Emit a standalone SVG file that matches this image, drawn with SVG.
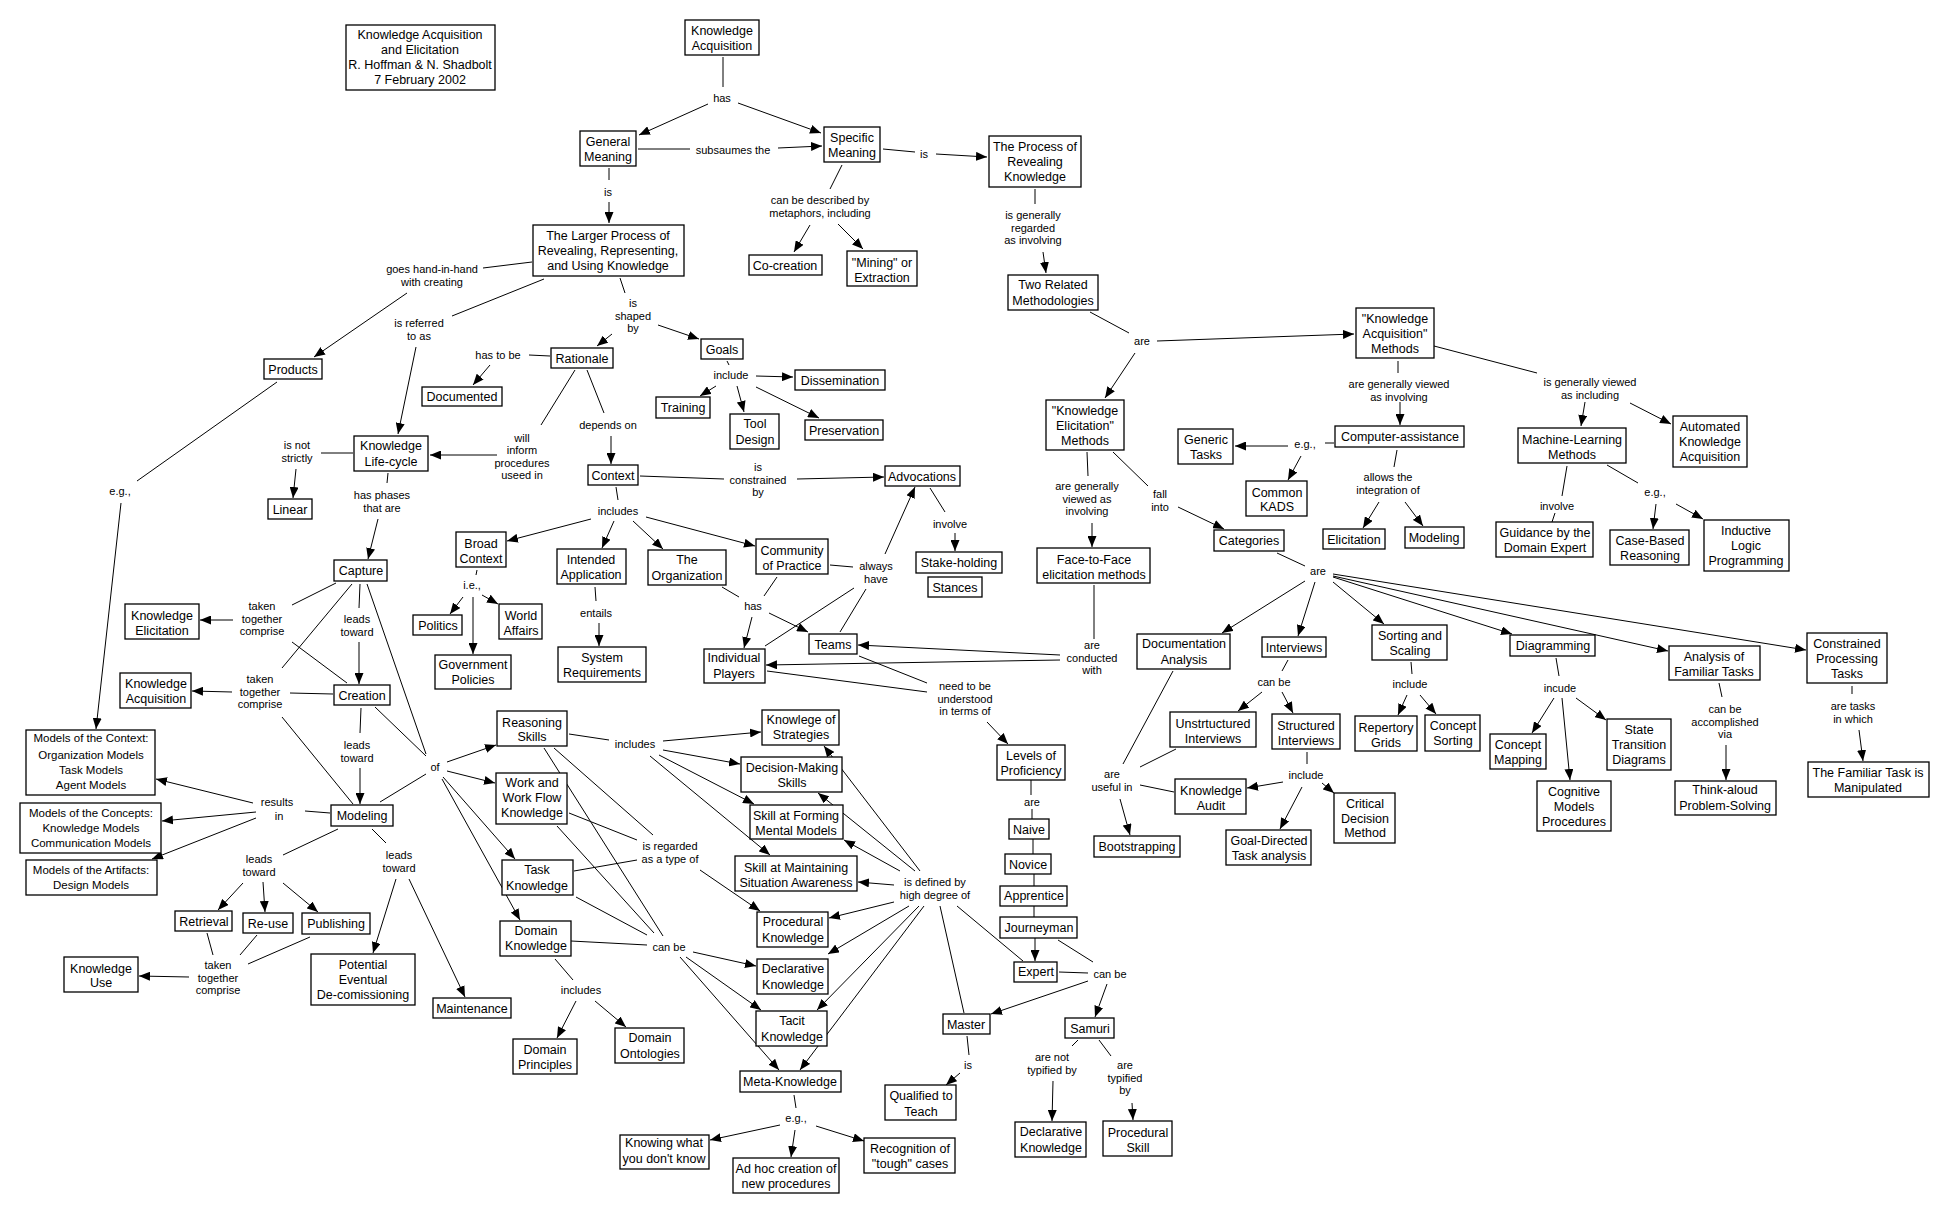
<svg xmlns="http://www.w3.org/2000/svg" width="1949" height="1213" viewBox="0 0 1949 1213">
<defs>
<marker id="ah" markerUnits="userSpaceOnUse" markerWidth="11" markerHeight="9" refX="11" refY="4.5" orient="auto"><path d="M0,0 L11,4.5 L0,9 z" fill="#000"/></marker>
<style>
rect{fill:#fff;stroke:#000;stroke-width:1.3}
text{font-family:"Liberation Sans",Arial,sans-serif;fill:#000;text-anchor:middle}
.t{font-size:12.5px}
.s{font-size:11.5px}
.l{font-size:11px}
#conn line{stroke:#000;stroke-width:1}
#conn .a{marker-end:url(#ah)}
</style>
</defs>
<rect x="0" y="0" width="1949" height="1213" style="fill:#fff;stroke:none"/>
<g id="conn">
<line x1="723" y1="57" x2="723" y2="87"/>
<line x1="638" y1="149" x2="690" y2="149"/>
<line x1="883" y1="149" x2="915" y2="152"/>
<line x1="609" y1="168" x2="609" y2="180"/>
<line x1="842" y1="165" x2="830" y2="189"/>
<line x1="1035" y1="189" x2="1035" y2="204"/>
<line x1="620" y1="278" x2="625" y2="293"/>
<line x1="532" y1="262" x2="483" y2="268"/>
<line x1="544" y1="279" x2="452" y2="316"/>
<line x1="1090" y1="312" x2="1129" y2="333"/>
<line x1="550" y1="356" x2="529" y2="355"/>
<line x1="727" y1="361" x2="729" y2="365"/>
<line x1="1398" y1="361" x2="1398" y2="373"/>
<line x1="1434" y1="346" x2="1537" y2="373"/>
<line x1="587" y1="370" x2="604" y2="413"/>
<line x1="575" y1="370" x2="541" y2="425"/>
<line x1="353" y1="453" x2="321" y2="453"/>
<line x1="1334" y1="443" x2="1325" y2="443"/>
<line x1="640" y1="476" x2="724" y2="479"/>
<line x1="1397" y1="450" x2="1394" y2="467"/>
<line x1="1087" y1="452" x2="1088" y2="476"/>
<line x1="1113" y1="452" x2="1148" y2="486"/>
<line x1="277" y1="382" x2="137" y2="481"/>
<line x1="388" y1="473" x2="387" y2="483"/>
<line x1="1607" y1="465" x2="1638" y2="483"/>
<line x1="1567" y1="466" x2="1562" y2="496"/>
<line x1="1555" y1="513" x2="1552" y2="522"/>
<line x1="616" y1="487" x2="618" y2="500"/>
<line x1="930" y1="488" x2="945" y2="512"/>
<line x1="830" y1="565" x2="853" y2="567"/>
<line x1="765" y1="646" x2="854" y2="588"/>
<line x1="840" y1="632" x2="866" y2="589"/>
<line x1="1277" y1="553" x2="1305" y2="566"/>
<line x1="477" y1="570" x2="476" y2="575"/>
<line x1="722" y1="587" x2="739" y2="597"/>
<line x1="777" y1="577" x2="764" y2="596"/>
<line x1="336" y1="583" x2="292" y2="605"/>
<line x1="347" y1="683" x2="292" y2="642"/>
<line x1="360" y1="584" x2="359" y2="608"/>
<line x1="595" y1="587" x2="596" y2="601"/>
<line x1="1094" y1="585" x2="1094" y2="639"/>
<line x1="1288" y1="660" x2="1282" y2="671"/>
<line x1="1411" y1="662" x2="1412" y2="674"/>
<line x1="1556" y1="658" x2="1559" y2="676"/>
<line x1="767" y1="671" x2="927" y2="692"/>
<line x1="859" y1="656" x2="927" y2="683"/>
<line x1="352" y1="584" x2="282" y2="668"/>
<line x1="333" y1="694" x2="290" y2="693"/>
<line x1="353" y1="804" x2="282" y2="717"/>
<line x1="1852" y1="686" x2="1852" y2="694"/>
<line x1="1719" y1="683" x2="1722" y2="697"/>
<line x1="569" y1="734" x2="609" y2="740"/>
<line x1="361" y1="708" x2="360" y2="733"/>
<line x1="367" y1="584" x2="426" y2="754"/>
<line x1="375" y1="707" x2="426" y2="756"/>
<line x1="380" y1="802" x2="426" y2="774"/>
<line x1="1173" y1="671" x2="1123" y2="764"/>
<line x1="1176" y1="749" x2="1140" y2="767"/>
<line x1="1174" y1="792" x2="1140" y2="785"/>
<line x1="1307" y1="752" x2="1307" y2="764"/>
<line x1="330" y1="813" x2="305" y2="811"/>
<line x1="1031" y1="780" x2="1031" y2="795"/>
<line x1="1032" y1="809" x2="1032" y2="819"/>
<line x1="1033" y1="839" x2="1033" y2="854"/>
<line x1="1034" y1="874" x2="1034" y2="886"/>
<line x1="1034" y1="906" x2="1034" y2="917"/>
<line x1="569" y1="813" x2="637" y2="840"/>
<line x1="554" y1="748" x2="653" y2="835"/>
<line x1="574" y1="871" x2="637" y2="860"/>
<line x1="338" y1="829" x2="283" y2="855"/>
<line x1="372" y1="829" x2="386" y2="843"/>
<line x1="544" y1="748" x2="663" y2="936"/>
<line x1="557" y1="826" x2="654" y2="933"/>
<line x1="576" y1="897" x2="647" y2="935"/>
<line x1="571" y1="941" x2="647" y2="945"/>
<line x1="957" y1="906" x2="1023" y2="961"/>
<line x1="940" y1="906" x2="964" y2="1013"/>
<line x1="207" y1="933" x2="213" y2="955"/>
<line x1="257" y1="935" x2="240" y2="955"/>
<line x1="310" y1="937" x2="248" y2="964"/>
<line x1="1058" y1="940" x2="1093" y2="962"/>
<line x1="1059" y1="972" x2="1088" y2="973"/>
<line x1="555" y1="959" x2="573" y2="980"/>
<line x1="967" y1="1036" x2="969" y2="1055"/>
<line x1="1078" y1="1040" x2="1072" y2="1046"/>
<line x1="1099" y1="1040" x2="1111" y2="1056"/>
<line x1="794" y1="1095" x2="796" y2="1108"/>
<line class="a" x1="708" y1="104" x2="639" y2="135"/>
<line class="a" x1="738" y1="103" x2="821" y2="133"/>
<line class="a" x1="778" y1="148" x2="822" y2="146"/>
<line class="a" x1="936" y1="154" x2="987" y2="157"/>
<line class="a" x1="609" y1="202" x2="609" y2="223"/>
<line class="a" x1="810" y1="225" x2="794" y2="252"/>
<line class="a" x1="838" y1="224" x2="863" y2="249"/>
<line class="a" x1="1043" y1="252" x2="1046" y2="273"/>
<line class="a" x1="612" y1="334" x2="597" y2="346"/>
<line class="a" x1="658" y1="325" x2="699" y2="339"/>
<line class="a" x1="407" y1="293" x2="314" y2="357"/>
<line class="a" x1="416" y1="347" x2="398" y2="434"/>
<line class="a" x1="1157" y1="341" x2="1354" y2="334"/>
<line class="a" x1="1135" y1="353" x2="1105" y2="398"/>
<line class="a" x1="490" y1="365" x2="473" y2="385"/>
<line class="a" x1="756" y1="376" x2="793" y2="377"/>
<line class="a" x1="716" y1="386" x2="700" y2="396"/>
<line class="a" x1="737" y1="386" x2="744" y2="412"/>
<line class="a" x1="756" y1="387" x2="819" y2="418"/>
<line class="a" x1="1400" y1="402" x2="1400" y2="425"/>
<line class="a" x1="1585" y1="402" x2="1581" y2="426"/>
<line class="a" x1="1630" y1="403" x2="1671" y2="424"/>
<line class="a" x1="611" y1="436" x2="611" y2="464"/>
<line class="a" x1="497" y1="455" x2="430" y2="455"/>
<line class="a" x1="296" y1="469" x2="293" y2="498"/>
<line class="a" x1="1288" y1="446" x2="1235" y2="446"/>
<line class="a" x1="1301" y1="456" x2="1288" y2="480"/>
<line class="a" x1="797" y1="479" x2="884" y2="477"/>
<line class="a" x1="1379" y1="502" x2="1363" y2="528"/>
<line class="a" x1="1405" y1="502" x2="1423" y2="526"/>
<line class="a" x1="1092" y1="523" x2="1092" y2="547"/>
<line class="a" x1="1178" y1="507" x2="1224" y2="529"/>
<line class="a" x1="378" y1="519" x2="368" y2="559"/>
<line class="a" x1="121" y1="503" x2="96" y2="729"/>
<line class="a" x1="1656" y1="504" x2="1653" y2="529"/>
<line class="a" x1="1676" y1="504" x2="1703" y2="519"/>
<line class="a" x1="591" y1="519" x2="507" y2="541"/>
<line class="a" x1="614" y1="521" x2="602" y2="548"/>
<line class="a" x1="633" y1="521" x2="663" y2="549"/>
<line class="a" x1="646" y1="517" x2="755" y2="546"/>
<line class="a" x1="955" y1="533" x2="955" y2="551"/>
<line class="a" x1="885" y1="554" x2="915" y2="487"/>
<line class="a" x1="1305" y1="581" x2="1222" y2="633"/>
<line class="a" x1="1315" y1="582" x2="1298" y2="636"/>
<line class="a" x1="1333" y1="582" x2="1384" y2="624"/>
<line class="a" x1="1333" y1="577" x2="1512" y2="634"/>
<line class="a" x1="1333" y1="576" x2="1668" y2="651"/>
<line class="a" x1="1333" y1="574" x2="1806" y2="650"/>
<line class="a" x1="463" y1="597" x2="450" y2="614"/>
<line class="a" x1="473" y1="597" x2="473" y2="654"/>
<line class="a" x1="482" y1="595" x2="498" y2="604"/>
<line class="a" x1="752" y1="617" x2="744" y2="648"/>
<line class="a" x1="769" y1="613" x2="808" y2="632"/>
<line class="a" x1="233" y1="620" x2="200" y2="620"/>
<line class="a" x1="359" y1="642" x2="359" y2="684"/>
<line class="a" x1="599" y1="623" x2="599" y2="646"/>
<line class="a" x1="1060" y1="655" x2="858" y2="645"/>
<line class="a" x1="1060" y1="660" x2="766" y2="665"/>
<line class="a" x1="232" y1="692" x2="192" y2="691"/>
<line class="a" x1="1262" y1="692" x2="1238" y2="711"/>
<line class="a" x1="1282" y1="692" x2="1293" y2="713"/>
<line class="a" x1="1407" y1="695" x2="1398" y2="715"/>
<line class="a" x1="1420" y1="695" x2="1436" y2="714"/>
<line class="a" x1="1554" y1="698" x2="1532" y2="733"/>
<line class="a" x1="1562" y1="698" x2="1570" y2="780"/>
<line class="a" x1="1576" y1="698" x2="1606" y2="720"/>
<line class="a" x1="987" y1="722" x2="1008" y2="744"/>
<line class="a" x1="1726" y1="745" x2="1726" y2="780"/>
<line class="a" x1="1859" y1="730" x2="1863" y2="761"/>
<line class="a" x1="663" y1="741" x2="761" y2="732"/>
<line class="a" x1="663" y1="750" x2="740" y2="764"/>
<line class="a" x1="659" y1="755" x2="754" y2="804"/>
<line class="a" x1="650" y1="756" x2="770" y2="855"/>
<line class="a" x1="447" y1="762" x2="496" y2="745"/>
<line class="a" x1="447" y1="771" x2="495" y2="783"/>
<line class="a" x1="443" y1="777" x2="515" y2="859"/>
<line class="a" x1="442" y1="779" x2="520" y2="920"/>
<line class="a" x1="360" y1="768" x2="360" y2="804"/>
<line class="a" x1="1283" y1="782" x2="1247" y2="788"/>
<line class="a" x1="1322" y1="783" x2="1334" y2="793"/>
<line class="a" x1="1302" y1="787" x2="1280" y2="829"/>
<line class="a" x1="1120" y1="799" x2="1130" y2="835"/>
<line class="a" x1="253" y1="803" x2="156" y2="779"/>
<line class="a" x1="256" y1="812" x2="162" y2="821"/>
<line class="a" x1="256" y1="818" x2="152" y2="859"/>
<line class="a" x1="700" y1="870" x2="760" y2="911"/>
<line class="a" x1="920" y1="871" x2="824" y2="746"/>
<line class="a" x1="915" y1="871" x2="818" y2="793"/>
<line class="a" x1="900" y1="871" x2="844" y2="840"/>
<line class="a" x1="894" y1="885" x2="858" y2="882"/>
<line class="a" x1="894" y1="902" x2="829" y2="918"/>
<line class="a" x1="909" y1="906" x2="828" y2="954"/>
<line class="a" x1="919" y1="906" x2="817" y2="1010"/>
<line class="a" x1="924" y1="906" x2="800" y2="1070"/>
<line class="a" x1="1035" y1="938" x2="1035" y2="961"/>
<line class="a" x1="243" y1="883" x2="218" y2="910"/>
<line class="a" x1="263" y1="882" x2="265" y2="912"/>
<line class="a" x1="283" y1="883" x2="318" y2="912"/>
<line class="a" x1="396" y1="879" x2="373" y2="953"/>
<line class="a" x1="409" y1="879" x2="465" y2="997"/>
<line class="a" x1="693" y1="952" x2="756" y2="966"/>
<line class="a" x1="686" y1="957" x2="761" y2="1010"/>
<line class="a" x1="680" y1="957" x2="779" y2="1070"/>
<line class="a" x1="189" y1="977" x2="139" y2="976"/>
<line class="a" x1="1107" y1="984" x2="1095" y2="1017"/>
<line class="a" x1="1088" y1="981" x2="991" y2="1014"/>
<line class="a" x1="576" y1="1001" x2="557" y2="1038"/>
<line class="a" x1="595" y1="1001" x2="626" y2="1027"/>
<line class="a" x1="1053" y1="1081" x2="1052" y2="1121"/>
<line class="a" x1="1132" y1="1103" x2="1133" y2="1120"/>
<line class="a" x1="960" y1="1073" x2="946" y2="1085"/>
<line class="a" x1="780" y1="1125" x2="710" y2="1140"/>
<line class="a" x1="795" y1="1130" x2="791" y2="1157"/>
<line class="a" x1="816" y1="1126" x2="864" y2="1141"/>
</g>
<g id="labels" class="l">
<text x="722" y="102">has</text>
<text x="733" y="154">subsaumes the</text>
<text x="924" y="158">is</text>
<text x="608" y="196">is</text>
<text x="820" y="204"><tspan x="820">can be described by</tspan><tspan x="820" dy="13">metaphors, including</tspan></text>
<text x="1033" y="219"><tspan x="1033">is generally</tspan><tspan x="1033" dy="13">regarded</tspan><tspan x="1033" dy="12">as involving</tspan></text>
<text x="633" y="307"><tspan x="633">is</tspan><tspan x="633" dy="13">shaped</tspan><tspan x="633" dy="12">by</tspan></text>
<text x="432" y="273"><tspan x="432">goes hand-in-hand</tspan><tspan x="432" dy="13">with creating</tspan></text>
<text x="419" y="327"><tspan x="419">is referred</tspan><tspan x="419" dy="13">to as</tspan></text>
<text x="1142" y="345">are</text>
<text x="498" y="359">has to be</text>
<text x="731" y="379">include</text>
<text x="1399" y="388"><tspan x="1399">are generally viewed</tspan><tspan x="1399" dy="13">as involving</tspan></text>
<text x="1590" y="386"><tspan x="1590">is generally viewed</tspan><tspan x="1590" dy="13">as including</tspan></text>
<text x="608" y="429">depends on</text>
<text x="522" y="442"><tspan x="522">will</tspan><tspan x="522" dy="12">inform</tspan><tspan x="522" dy="13">procedures</tspan><tspan x="522" dy="12">useed in</tspan></text>
<text x="297" y="449"><tspan x="297">is not</tspan><tspan x="297" dy="13">strictly</tspan></text>
<text x="1305" y="448">e.g.,</text>
<text x="758" y="471"><tspan x="758">is</tspan><tspan x="758" dy="13">constrained</tspan><tspan x="758" dy="12">by</tspan></text>
<text x="1388" y="481"><tspan x="1388">allows the</tspan><tspan x="1388" dy="13">integration of</tspan></text>
<text x="1087" y="490"><tspan x="1087">are generally</tspan><tspan x="1087" dy="13">viewed as</tspan><tspan x="1087" dy="12">involving</tspan></text>
<text x="1160" y="498"><tspan x="1160">fall</tspan><tspan x="1160" dy="13">into</tspan></text>
<text x="120" y="495">e.g.,</text>
<text x="382" y="499"><tspan x="382">has phases</tspan><tspan x="382" dy="13">that are</tspan></text>
<text x="1655" y="496">e.g.,</text>
<text x="1557" y="510">involve</text>
<text x="618" y="515">includes</text>
<text x="950" y="528">involve</text>
<text x="876" y="570"><tspan x="876">always</tspan><tspan x="876" dy="13">have</tspan></text>
<text x="1318" y="575">are</text>
<text x="472" y="589">i.e.,</text>
<text x="753" y="610">has</text>
<text x="262" y="610"><tspan x="262">taken</tspan><tspan x="262" dy="13">together</tspan><tspan x="262" dy="12">comprise</tspan></text>
<text x="357" y="623"><tspan x="357">leads</tspan><tspan x="357" dy="13">toward</tspan></text>
<text x="596" y="617">entails</text>
<text x="1092" y="649"><tspan x="1092">are</tspan><tspan x="1092" dy="13">conducted</tspan><tspan x="1092" dy="12">with</tspan></text>
<text x="1274" y="686">can be</text>
<text x="1410" y="688">include</text>
<text x="1560" y="692">incude</text>
<text x="965" y="690"><tspan x="965">need to be</tspan><tspan x="965" dy="13">understood</tspan><tspan x="965" dy="12">in terms of</tspan></text>
<text x="260" y="683"><tspan x="260">taken</tspan><tspan x="260" dy="13">together</tspan><tspan x="260" dy="12">comprise</tspan></text>
<text x="1853" y="710"><tspan x="1853">are tasks</tspan><tspan x="1853" dy="13">in which</tspan></text>
<text x="1725" y="713"><tspan x="1725">can be</tspan><tspan x="1725" dy="13">accomplished</tspan><tspan x="1725" dy="12">via</tspan></text>
<text x="635" y="748">includes</text>
<text x="357" y="749"><tspan x="357">leads</tspan><tspan x="357" dy="13">toward</tspan></text>
<text x="435" y="771">of</text>
<text x="1112" y="778"><tspan x="1112">are</tspan><tspan x="1112" dy="13">useful in</tspan></text>
<text x="1306" y="779">include</text>
<text x="277" y="806"><tspan x="277">results</tspan><tspan x="279" dy="14">in</tspan></text>
<text x="1032" y="806">are</text>
<text x="670" y="850"><tspan x="670">is regarded</tspan><tspan x="670" dy="13">as a type of</tspan></text>
<text x="259" y="863"><tspan x="259">leads</tspan><tspan x="259" dy="13">toward</tspan></text>
<text x="399" y="859"><tspan x="399">leads</tspan><tspan x="399" dy="13">toward</tspan></text>
<text x="935" y="886"><tspan x="935">is defined by</tspan><tspan x="935" dy="13">high degree of</tspan></text>
<text x="669" y="951">can be</text>
<text x="218" y="969"><tspan x="218">taken</tspan><tspan x="218" dy="13">together</tspan><tspan x="218" dy="12">comprise</tspan></text>
<text x="1110" y="978">can be</text>
<text x="581" y="994">includes</text>
<text x="1052" y="1061"><tspan x="1052">are not</tspan><tspan x="1052" dy="13">typified by</tspan></text>
<text x="1125" y="1069"><tspan x="1125">are</tspan><tspan x="1125" dy="13">typified</tspan><tspan x="1125" dy="12">by</tspan></text>
<text x="968" y="1069">is</text>
<text x="796" y="1122">e.g.,</text>
</g>
<g id="n-title"><rect x="346" y="25" width="149" height="65"/><text class="t" y="38.5"><tspan x="420">Knowledge Acquisition</tspan><tspan x="420" dy="15">and Elicitation</tspan><tspan x="420" dy="15.3">R. Hoffman &amp; N. Shadbolt</tspan><tspan x="420" dy="15.3">7 February 2002</tspan></text></g>
<g id="n-ka"><rect x="685" y="20" width="74" height="35"/><text class="t" y="34.5"><tspan x="722">Knowledge</tspan><tspan x="722" dy="15">Acquisition</tspan></text></g>
<g id="n-gm"><rect x="580" y="131" width="56" height="35"/><text class="t" y="145.5"><tspan x="608">General</tspan><tspan x="608" dy="15">Meaning</tspan></text></g>
<g id="n-sm"><rect x="824" y="127" width="56" height="35"/><text class="t" y="141.5"><tspan x="852">Specific</tspan><tspan x="852" dy="15">Meaning</tspan></text></g>
<g id="n-prk"><rect x="989" y="136" width="92" height="51"/><text class="t" y="150.5"><tspan x="1035">The Process of</tspan><tspan x="1035" dy="15">Revealing</tspan><tspan x="1035" dy="15">Knowledge</tspan></text></g>
<g id="n-lp"><rect x="533" y="225" width="151" height="51"/><text class="t" y="239.5"><tspan x="608">The Larger Process of</tspan><tspan x="608" dy="15">Revealing, Representing,</tspan><tspan x="608" dy="15">and Using Knowledge</tspan></text></g>
<g id="n-cocr"><rect x="749" y="255" width="73" height="20"/><text class="t" x="785" y="269.5">Co-creation</text></g>
<g id="n-mining"><rect x="847" y="251" width="70" height="35"/><text class="t" y="266.5"><tspan x="882">"Mining" or</tspan><tspan x="882" dy="15">Extraction</tspan></text></g>
<g id="n-trm"><rect x="1008" y="275" width="90" height="35"/><text class="t" y="288.5"><tspan x="1053">Two Related</tspan><tspan x="1053" dy="16">Methodologies</tspan></text></g>
<g id="n-kam"><rect x="1356" y="308" width="78" height="50"/><text class="t" y="322.5"><tspan x="1395">"Knowledge</tspan><tspan x="1395" dy="15">Acquisition"</tspan><tspan x="1395" dy="15">Methods</tspan></text></g>
<g id="n-products"><rect x="264" y="359" width="58" height="20"/><text class="t" x="293" y="373.5">Products</text></g>
<g id="n-goals"><rect x="701" y="339" width="42" height="20"/><text class="t" x="722" y="353.5">Goals</text></g>
<g id="n-rationale"><rect x="551" y="348" width="62" height="20"/><text class="t" x="582" y="362.5">Rationale</text></g>
<g id="n-documented"><rect x="422" y="387" width="80" height="19"/><text class="t" x="462" y="400.5">Documented</text></g>
<g id="n-dissem"><rect x="795" y="370" width="90" height="20"/><text class="t" x="840" y="384.5">Dissemination</text></g>
<g id="n-training"><rect x="656" y="397" width="54" height="21"/><text class="t" x="683" y="411.5">Training</text></g>
<g id="n-tool"><rect x="730" y="414" width="49" height="35"/><text class="t" y="427.5"><tspan x="755">Tool</tspan><tspan x="755" dy="16">Design</tspan></text></g>
<g id="n-preserv"><rect x="805" y="420" width="78" height="20"/><text class="t" x="844" y="434.5">Preservation</text></g>
<g id="n-klc"><rect x="354" y="436" width="74" height="35"/><text class="t" y="449.5"><tspan x="391">Knowledge</tspan><tspan x="391" dy="16">Life-cycle</tspan></text></g>
<g id="n-linear"><rect x="268" y="499" width="44" height="20"/><text class="t" x="290" y="513.5">Linear</text></g>
<g id="n-context"><rect x="588" y="465" width="50" height="20"/><text class="t" x="613" y="479.5">Context</text></g>
<g id="n-advoc"><rect x="885" y="466" width="75" height="20"/><text class="t" x="922" y="480.5">Advocations</text></g>
<g id="n-kem"><rect x="1046" y="400" width="78" height="50"/><text class="t" y="414.5"><tspan x="1085">"Knowledge</tspan><tspan x="1085" dy="15">Elicitation"</tspan><tspan x="1085" dy="15">Methods</tspan></text></g>
<g id="n-generic"><rect x="1178" y="429" width="55" height="35"/><text class="t" y="443.5"><tspan x="1206">Generic</tspan><tspan x="1206" dy="15">Tasks</tspan></text></g>
<g id="n-compassist"><rect x="1335" y="426" width="129" height="21"/><text class="t" x="1400" y="440.5">Computer-assistance</text></g>
<g id="n-mlm"><rect x="1518" y="428" width="108" height="35"/><text class="t" y="443.5"><tspan x="1572">Machine-Learning</tspan><tspan x="1572" dy="15">Methods</tspan></text></g>
<g id="n-aka"><rect x="1673" y="416" width="74" height="51"/><text class="t" y="430.5"><tspan x="1710">Automated</tspan><tspan x="1710" dy="15">Knowledge</tspan><tspan x="1710" dy="15">Acquisition</tspan></text></g>
<g id="n-commonkads"><rect x="1246" y="481" width="61" height="35"/><text class="t" y="496.5"><tspan x="1277">Common</tspan><tspan x="1277" dy="14">KADS</tspan></text></g>
<g id="n-guidance"><rect x="1496" y="522" width="97" height="35"/><text class="t" y="536.5"><tspan x="1545">Guidance by the</tspan><tspan x="1545" dy="15">Domain Expert</tspan></text></g>
<g id="n-cbr"><rect x="1610" y="530" width="79" height="35"/><text class="t" y="544.5"><tspan x="1650">Case-Based</tspan><tspan x="1650" dy="15">Reasoning</tspan></text></g>
<g id="n-ilp"><rect x="1704" y="520" width="85" height="51"/><text class="t" y="534.5"><tspan x="1746">Inductive</tspan><tspan x="1746" dy="15">Logic</tspan><tspan x="1746" dy="15">Programming</tspan></text></g>
<g id="n-elicit"><rect x="1323" y="529" width="62" height="20"/><text class="t" x="1354" y="543.5">Elicitation</text></g>
<g id="n-modelR"><rect x="1405" y="527" width="59" height="21"/><text class="t" x="1434" y="541.5">Modeling</text></g>
<g id="n-categories"><rect x="1214" y="530" width="70" height="21"/><text class="t" x="1249" y="544.5">Categories</text></g>
<g id="n-f2f"><rect x="1037" y="548" width="113" height="35"/><text class="t" y="563.5"><tspan x="1094">Face-to-Face</tspan><tspan x="1094" dy="15">elicitation methods</tspan></text></g>
<g id="n-broad"><rect x="456" y="532" width="50" height="35"/><text class="t" y="547.5"><tspan x="481">Broad</tspan><tspan x="481" dy="15">Context</tspan></text></g>
<g id="n-intended"><rect x="557" y="549" width="69" height="35"/><text class="t" y="563.5"><tspan x="591">Intended</tspan><tspan x="591" dy="15">Application</tspan></text></g>
<g id="n-org"><rect x="648" y="550" width="78" height="35"/><text class="t" y="563.5"><tspan x="687">The</tspan><tspan x="687" dy="16">Organization</tspan></text></g>
<g id="n-cop"><rect x="756" y="539" width="72" height="35"/><text class="t" y="554.5"><tspan x="792">Community</tspan><tspan x="792" dy="15">of Practice</tspan></text></g>
<g id="n-stake"><rect x="916" y="552" width="86" height="21"/><text class="t" x="959" y="566.5">Stake-holding</text></g>
<g id="n-stances"><rect x="928" y="577" width="54" height="20"/><text class="t" x="955" y="591.5">Stances</text></g>
<g id="n-capture"><rect x="334" y="560" width="53" height="21"/><text class="t" x="361" y="574.5">Capture</text></g>
<g id="n-ke"><rect x="125" y="604" width="74" height="35"/><text class="t" y="619.5"><tspan x="162">Knowledge</tspan><tspan x="162" dy="15">Elicitation</tspan></text></g>
<g id="n-politics"><rect x="413" y="615" width="49" height="20"/><text class="t" x="438" y="629.5">Politics</text></g>
<g id="n-world"><rect x="499" y="604" width="43" height="35"/><text class="t" y="619.5"><tspan x="521">World</tspan><tspan x="521" dy="15">Affairs</tspan></text></g>
<g id="n-govt"><rect x="435" y="655" width="76" height="34"/><text class="t" y="668.5"><tspan x="473">Government</tspan><tspan x="473" dy="15">Policies</tspan></text></g>
<g id="n-sysreq"><rect x="558" y="647" width="88" height="35"/><text class="t" y="661.5"><tspan x="602">System</tspan><tspan x="602" dy="15">Requirements</tspan></text></g>
<g id="n-teams"><rect x="809" y="634" width="48" height="20"/><text class="t" x="833" y="648.5">Teams</text></g>
<g id="n-players"><rect x="704" y="649" width="61" height="34"/><text class="t" y="661.5"><tspan x="734">Individual</tspan><tspan x="734" dy="16">Players</tspan></text></g>
<g id="n-docan"><rect x="1137" y="634" width="93" height="35"/><text class="t" y="647.5"><tspan x="1184">Documentation</tspan><tspan x="1184" dy="16">Analysis</tspan></text></g>
<g id="n-interviews"><rect x="1262" y="637" width="64" height="20"/><text class="t" x="1294" y="651.5">Interviews</text></g>
<g id="n-sorting"><rect x="1372" y="625" width="75" height="35"/><text class="t" y="639.5"><tspan x="1410">Sorting and</tspan><tspan x="1410" dy="15">Scaling</tspan></text></g>
<g id="n-diagramming"><rect x="1510" y="635" width="85" height="21"/><text class="t" x="1553" y="649.5">Diagramming</text></g>
<g id="n-aft"><rect x="1669" y="646" width="91" height="34"/><text class="t" y="660.5"><tspan x="1714">Analysis of</tspan><tspan x="1714" dy="15">Familiar Tasks</tspan></text></g>
<g id="n-cpt"><rect x="1807" y="633" width="80" height="50"/><text class="t" y="647.5"><tspan x="1847">Constrained</tspan><tspan x="1847" dy="15">Processing</tspan><tspan x="1847" dy="15">Tasks</tspan></text></g>
<g id="n-kaL"><rect x="120" y="673" width="71" height="35"/><text class="t" y="687.5"><tspan x="156">Knowledge</tspan><tspan x="156" dy="15">Acquisition</tspan></text></g>
<g id="n-creation"><rect x="334" y="685" width="56" height="20"/><text class="t" x="362" y="699.5">Creation</text></g>
<g id="n-reasoning"><rect x="497" y="711" width="70" height="35"/><text class="t" y="726.5"><tspan x="532">Reasoning</tspan><tspan x="532" dy="14.5">Skills</tspan></text></g>
<g id="n-kos"><rect x="762" y="710" width="77" height="35"/><text class="t" y="723.5"><tspan x="801">Knowlege of</tspan><tspan x="801" dy="15.5">Strategies</tspan></text></g>
<g id="n-dms"><rect x="741" y="757" width="101" height="35"/><text class="t" y="771.5"><tspan x="792">Decision-Making</tspan><tspan x="792" dy="15.5">Skills</tspan></text></g>
<g id="n-unstr"><rect x="1170" y="712" width="86" height="35"/><text class="t" y="727.5"><tspan x="1213">Unstrtuctured</tspan><tspan x="1213" dy="15">Interviews</tspan></text></g>
<g id="n-struct"><rect x="1272" y="714" width="68" height="35"/><text class="t" y="729.5"><tspan x="1306">Structured</tspan><tspan x="1306" dy="15">Interviews</tspan></text></g>
<g id="n-repertory"><rect x="1355" y="716" width="62" height="35"/><text class="t" y="731.5"><tspan x="1386">Repertory</tspan><tspan x="1386" dy="15">Grids</tspan></text></g>
<g id="n-csort"><rect x="1425" y="715" width="55" height="36"/><text class="t" y="729.5"><tspan x="1453">Concept</tspan><tspan x="1453" dy="15">Sorting</tspan></text></g>
<g id="n-levels"><rect x="997" y="745" width="68" height="35"/><text class="t" y="759.5"><tspan x="1031">Levels of</tspan><tspan x="1031" dy="15">Proficiency</tspan></text></g>
<g id="n-cmap"><rect x="1490" y="734" width="56" height="35"/><text class="t" y="748.5"><tspan x="1518">Concept</tspan><tspan x="1518" dy="15">Mapping</tspan></text></g>
<g id="n-std"><rect x="1607" y="719" width="64" height="51"/><text class="t" y="733.5"><tspan x="1639">State</tspan><tspan x="1639" dy="15">Transition</tspan><tspan x="1639" dy="15">Diagrams</tspan></text></g>
<g id="n-ctxm"><rect x="26" y="730" width="129" height="65"/><text class="s" y="742"><tspan x="91">Models of the Context:</tspan><tspan x="91" dy="16.5">Organization Models</tspan><tspan x="91" dy="15">Task Models</tspan><tspan x="91" dy="15">Agent Models</tspan></text></g>
<g id="n-workflow"><rect x="496" y="773" width="71" height="51"/><text class="t" y="786.5"><tspan x="532">Work and</tspan><tspan x="532" dy="15">Work Flow</tspan><tspan x="532" dy="15">Knowledge</tspan></text></g>
<g id="n-kaudit"><rect x="1175" y="779" width="71" height="35"/><text class="t" y="794.5"><tspan x="1211">Knowledge</tspan><tspan x="1211" dy="15">Audit</tspan></text></g>
<g id="n-cdm"><rect x="1334" y="793" width="61" height="50"/><text class="t" y="807.5"><tspan x="1365">Critical</tspan><tspan x="1365" dy="15">Decision</tspan><tspan x="1365" dy="14.5">Method</tspan></text></g>
<g id="n-cogmod"><rect x="1537" y="781" width="74" height="50"/><text class="t" y="795.5"><tspan x="1574">Cognitive</tspan><tspan x="1574" dy="15">Models</tspan><tspan x="1574" dy="15">Procedures</tspan></text></g>
<g id="n-thinkaloud"><rect x="1675" y="781" width="101" height="34"/><text class="t" y="793.5"><tspan x="1725">Think-aloud</tspan><tspan x="1725" dy="16">Problem-Solving</tspan></text></g>
<g id="n-familiar"><rect x="1808" y="762" width="121" height="35"/><text class="t" y="776.5"><tspan x="1868">The Familiar Task is</tspan><tspan x="1868" dy="15">Manipulated</tspan></text></g>
<g id="n-conm"><rect x="20" y="803" width="141" height="50"/><text class="s" y="817"><tspan x="91">Models of the Concepts:</tspan><tspan x="91" dy="15">Knowledge Models</tspan><tspan x="91" dy="15">Communication Models</tspan></text></g>
<g id="n-modelingL"><rect x="331" y="805" width="62" height="21"/><text class="t" x="362" y="819.5">Modeling</text></g>
<g id="n-sfmm"><rect x="750" y="805" width="93" height="34"/><text class="t" y="819.5"><tspan x="796">Skill at Forming</tspan><tspan x="796" dy="15">Mental Models</tspan></text></g>
<g id="n-naive"><rect x="1009" y="819" width="40" height="20"/><text class="t" x="1029" y="833.5">Naive</text></g>
<g id="n-bootstrapping"><rect x="1094" y="836" width="86" height="21"/><text class="t" x="1137" y="850.5">Bootstrapping</text></g>
<g id="n-gdta"><rect x="1226" y="830" width="85" height="35"/><text class="t" y="844.5"><tspan x="1269">Goal-Directed</tspan><tspan x="1269" dy="15">Task analysis</tspan></text></g>
<g id="n-samsa"><rect x="735" y="856" width="122" height="35"/><text class="t" y="871.5"><tspan x="796">Skill at Maintaining</tspan><tspan x="796" dy="15">Situation Awareness</tspan></text></g>
<g id="n-artm"><rect x="26" y="860" width="131" height="35"/><text class="s" y="874"><tspan x="91">Models of the Artifacts:</tspan><tspan x="91" dy="15">Design Models</tspan></text></g>
<g id="n-task"><rect x="502" y="860" width="71" height="35"/><text class="t" y="873.5"><tspan x="537">Task</tspan><tspan x="537" dy="16">Knowledge</tspan></text></g>
<g id="n-novice"><rect x="1005" y="854" width="46" height="20"/><text class="t" x="1028" y="868.5">Novice</text></g>
<g id="n-apprentice"><rect x="1000" y="886" width="67" height="20"/><text class="t" x="1034" y="899.5">Apprentice</text></g>
<g id="n-retrieval"><rect x="175" y="911" width="57" height="20"/><text class="t" x="204" y="925.5">Retrieval</text></g>
<g id="n-reuse"><rect x="243" y="913" width="50" height="20"/><text class="t" x="268" y="927.5">Re-use</text></g>
<g id="n-publishing"><rect x="302" y="913" width="68" height="21"/><text class="t" x="336" y="927.5">Publishing</text></g>
<g id="n-procK"><rect x="757" y="912" width="71" height="35"/><text class="t" y="925.5"><tspan x="793">Procedural</tspan><tspan x="793" dy="16">Knowledge</tspan></text></g>
<g id="n-journeyman"><rect x="1000" y="917" width="77" height="21"/><text class="t" x="1039" y="931.5">Journeyman</text></g>
<g id="n-domain"><rect x="500" y="921" width="71" height="35"/><text class="t" y="934.5"><tspan x="536">Domain</tspan><tspan x="536" dy="15.5">Knowledge</tspan></text></g>
<g id="n-knowuse"><rect x="64" y="957" width="74" height="35"/><text class="t" y="972.5"><tspan x="101">Knowledge</tspan><tspan x="101" dy="14.5">Use</tspan></text></g>
<g id="n-ped"><rect x="311" y="954" width="104" height="51"/><text class="t" y="968.5"><tspan x="363">Potential</tspan><tspan x="363" dy="15">Eventual</tspan><tspan x="363" dy="15">De-comissioning</tspan></text></g>
<g id="n-declK"><rect x="757" y="959" width="71" height="35"/><text class="t" y="972.5"><tspan x="793">Declarative</tspan><tspan x="793" dy="16">Knowledge</tspan></text></g>
<g id="n-expert"><rect x="1014" y="962" width="43" height="20"/><text class="t" x="1036" y="975.5">Expert</text></g>
<g id="n-maintenance"><rect x="433" y="998" width="78" height="20"/><text class="t" x="472" y="1012.5">Maintenance</text></g>
<g id="n-tacit"><rect x="756" y="1011" width="71" height="35"/><text class="t" y="1024.5"><tspan x="792">Tacit</tspan><tspan x="792" dy="16">Knowledge</tspan></text></g>
<g id="n-master"><rect x="943" y="1014" width="47" height="20"/><text class="t" x="966" y="1028.5">Master</text></g>
<g id="n-samuri"><rect x="1065" y="1018" width="49" height="20"/><text class="t" x="1090" y="1032.5">Samuri</text></g>
<g id="n-dprinc"><rect x="513" y="1039" width="64" height="35"/><text class="t" y="1053.5"><tspan x="545">Domain</tspan><tspan x="545" dy="15">Principles</tspan></text></g>
<g id="n-dont"><rect x="615" y="1028" width="69" height="35"/><text class="t" y="1041.5"><tspan x="650">Domain</tspan><tspan x="650" dy="16">Ontologies</tspan></text></g>
<g id="n-meta"><rect x="740" y="1071" width="101" height="21"/><text class="t" x="790" y="1085.5">Meta-Knowledge</text></g>
<g id="n-qtt"><rect x="885" y="1085" width="71" height="35"/><text class="t" y="1099.5"><tspan x="921">Qualified to</tspan><tspan x="921" dy="16">Teach</tspan></text></g>
<g id="n-declK2"><rect x="1015" y="1122" width="71" height="35"/><text class="t" y="1135.5"><tspan x="1051">Declarative</tspan><tspan x="1051" dy="16">Knowledge</tspan></text></g>
<g id="n-procSkill"><rect x="1103" y="1121" width="69" height="35"/><text class="t" y="1136.5"><tspan x="1138">Procedural</tspan><tspan x="1138" dy="15">Skill</tspan></text></g>
<g id="n-kwydk"><rect x="620" y="1135" width="89" height="34"/><text class="t" y="1146.5"><tspan x="664">Knowing what</tspan><tspan x="664" dy="16">you don't know</tspan></text></g>
<g id="n-adhoc"><rect x="733" y="1158" width="106" height="35"/><text class="t" y="1172.5"><tspan x="786">Ad hoc creation of</tspan><tspan x="786" dy="15">new procedures</tspan></text></g>
<g id="n-tough"><rect x="864" y="1138" width="91" height="35"/><text class="t" y="1152.5"><tspan x="910">Recognition of</tspan><tspan x="910" dy="15">"tough" cases</tspan></text></g>
</svg>
